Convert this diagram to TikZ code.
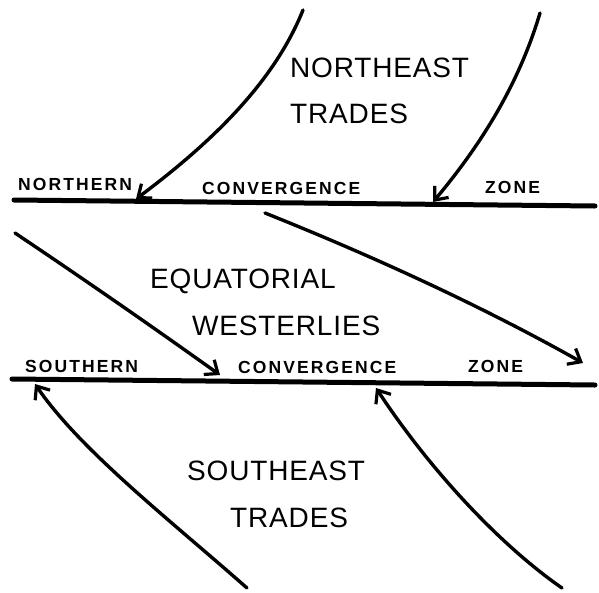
\documentclass[tikz,border=0pt]{standalone}
\usepackage{fontspec}
\setmainfont{Liberation Sans}
\newfontfamily\regionfont[LetterSpace=3]{Liberation Sans}
\newfontfamily\beltfont[LetterSpace=12]{Liberation Sans}
\usetikzlibrary{arrows.meta}

\begin{document}
\begin{tikzpicture}[x=1pt, y=-1pt,
    zoneline/.style={line width=5pt, line cap=round},
    wind/.style={line width=3.4pt, line cap=round, -{Straight Barb[length=11pt, width=18pt, line width=3.2pt]}},
    region/.style={anchor=base west, inner sep=0pt, font=\regionfont\fontsize{28}{32}\selectfont},
    belt/.style={anchor=base west, inner sep=0pt, font=\beltfont\bfseries\fontsize{17.5}{20}\selectfont}]
    \useasboundingbox (0,0) rectangle (599,592);
    \coordinate (ncz west) at (14,200);
    \coordinate (ncz east) at (595,206);
    \coordinate (scz west) at (12,379);
    \coordinate (scz east) at (595,385);
    \draw[zoneline] (ncz west) -- (ncz east);
    \draw[zoneline] (scz west) -- (scz east);
    \node[region] (ne1) at (290,77) {NORTHEAST};
    \node[region] (ne2) at (290,123) {TRADES};
    \node[region] (eq1) at (150,288) {EQUATORIAL};
    \node[region] (eq2) at (192,335) {WESTERLIES};
    \node[region] (se1) at (187,480) {SOUTHEAST};
    \node[region] (se2) at (230,527) {TRADES};
    \node[belt] (ncz1) at (18,190) {NORTHERN};
    \node[belt] (ncz2) at (202,194) {CONVERGENCE};
    \node[belt] (ncz3) at (485,193) {ZONE};
    \node[belt] (scz1) at (25,372) {SOUTHERN};
    \node[belt] (scz2) at (238,373) {CONVERGENCE};
    \node[belt] (scz3) at (468,372) {ZONE};
    \coordinate (ne a) at (303,10);
    \coordinate (ne a tip) at (136,199);
    \coordinate (ne b) at (540,13);
    \coordinate (ne b tip) at (433,202);
    \coordinate (w a) at (15,233);
    \coordinate (w a tip) at (220,375);
    \coordinate (w b) at (265,213);
    \coordinate (w b tip) at (583,363);
    \coordinate (se a) at (247,588);
    \coordinate (se a tip) at (35,384);
    \coordinate (se b) at (562,588);
    \coordinate (se b tip) at (376,388);
    \draw[wind] (ne a) .. controls (275,80) and (215,140) .. (ne a tip);
    \draw[wind] (ne b) .. controls (520,80) and (485,140) .. (ne b tip);
    \draw[wind] (w a) .. controls (85,280) and (150,325) .. (w a tip);
    \draw[wind] (w b) .. controls (370,255) and (480,305) .. (w b tip);
    \draw[wind] (se a) .. controls (170,520) and (80,450) .. (se a tip);
    \draw[wind] (se b) .. controls (500,545) and (430,470) .. (se b tip);
\end{tikzpicture}
\end{document}
